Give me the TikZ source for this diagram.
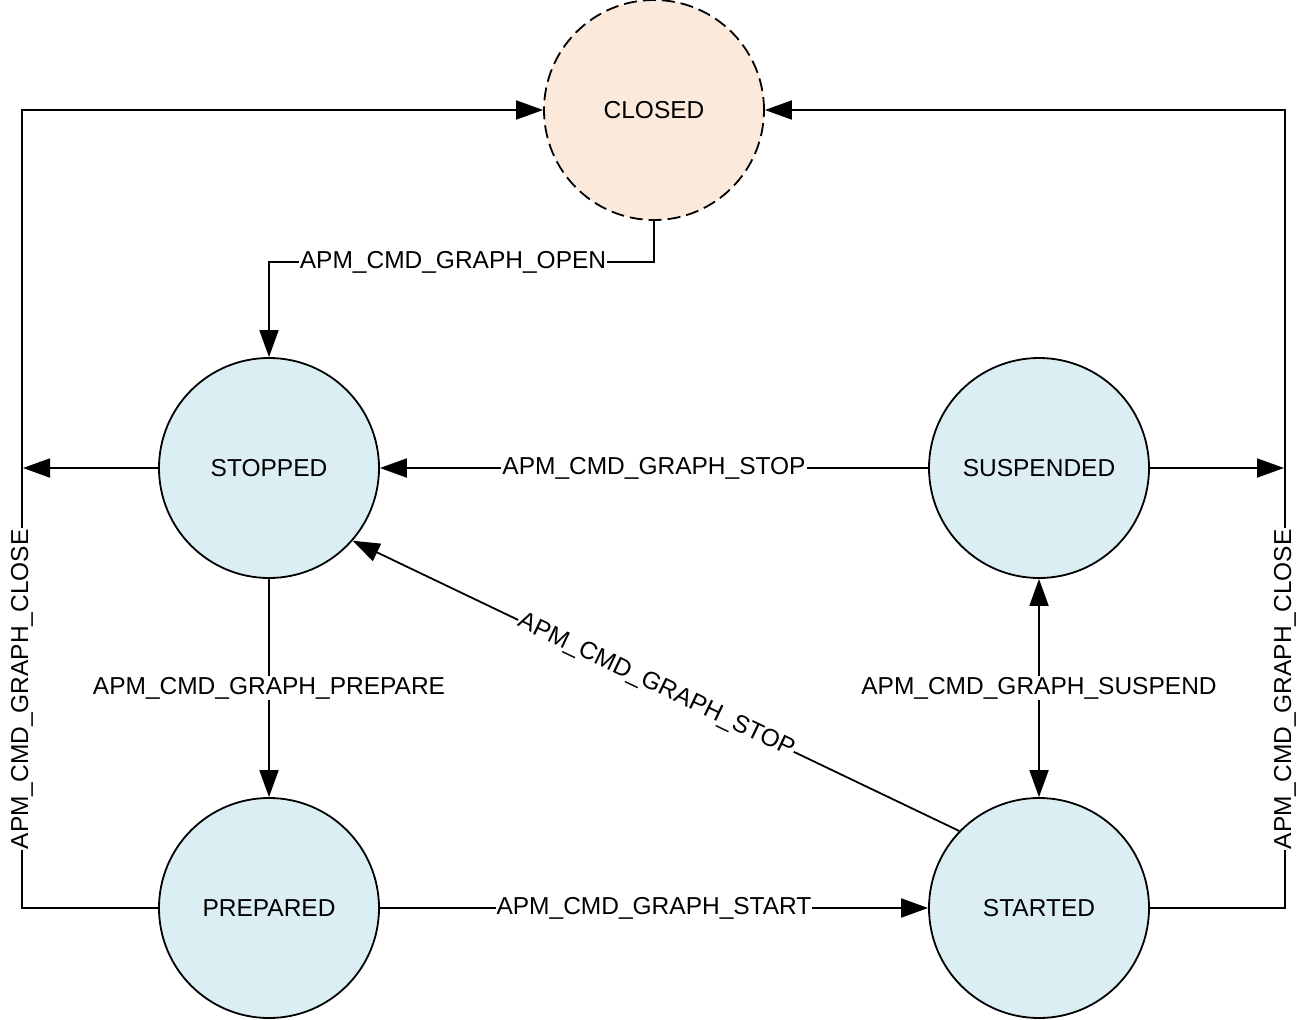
\documentclass[tikz,border=0pt]{standalone}
\usepackage{fontspec}
\setmainfont{Liberation Sans}
\usetikzlibrary{arrows.meta}
\definecolor{stateblue}{RGB}{219,238,244}
\definecolor{closedpeach}{RGB}{251,233,219}
\begin{document}
\begin{tikzpicture}[x=1pt,y=-1pt,
  state/.style={circle, draw=black, line width=1.8pt, fill=stateblue, minimum size=220pt, inner sep=0pt, font=\fontsize{24.5}{29}\selectfont},
  closedstate/.style={state, fill=closedpeach, dash pattern=on 13pt off 6pt},
  tipA/.tip={Triangle[length=27pt,width=19pt]},
  conn/.style={line width=1.8pt, -tipA},
  lbl/.style={fill=white, inner sep=1pt, font=\fontsize{24.5}{29}\selectfont}]
\useasboundingbox (0,0) rectangle (1315,1020);

\node[closedstate] (closed) at (654,110) {CLOSED};
\node[state] (stopped) at (269,468) {STOPPED};
\node[state] (suspended) at (1039,468) {SUSPENDED};
\node[state] (prepared) at (269,908) {PREPARED};
\node[state] (started) at (1039,908) {STARTED};

\coordinate (tl) at (22,110);
\coordinate (bl) at (22,908);
\coordinate (tr) at (1285,110);
\coordinate (br) at (1285,908);
\coordinate (lm) at (23,468);
\coordinate (rm) at (1284,468);
\coordinate (ob1) at (654,262);
\coordinate (ob2) at (269,262);

\draw[conn] (prepared.west) -- (bl) -- node[lbl, rotate=90, pos=0.274]{APM\_CMD\_GRAPH\_CLOSE} (tl) -- (closed.west);
\draw[conn] (started.east) -- (br) -- node[lbl, rotate=90, pos=0.274]{APM\_CMD\_GRAPH\_CLOSE} (tr) -- (closed.east);
\draw[conn] (stopped.west) -- (lm);
\draw[conn] (suspended.east) -- (rm);
\draw[conn] (closed.south) -- (ob1) -- node[lbl, pos=0.522]{APM\_CMD\_GRAPH\_OPEN} (ob2) -- (stopped.north);
\draw[conn] (suspended.west) -- node[lbl]{APM\_CMD\_GRAPH\_STOP} (stopped.east);
\draw[conn] (stopped.south) -- node[lbl]{APM\_CMD\_GRAPH\_PREPARE} (prepared.north);
\draw[conn] (prepared.east) -- node[lbl]{APM\_CMD\_GRAPH\_START} (started.west);
\draw[line width=1.8pt, tipA-tipA] (suspended.south) -- node[lbl]{APM\_CMD\_GRAPH\_SUSPEND} (started.north);
\draw[conn] (started.136) -- node[lbl, sloped]{APM\_CMD\_GRAPH\_STOP} (stopped.-41);
\end{tikzpicture}
\end{document}
